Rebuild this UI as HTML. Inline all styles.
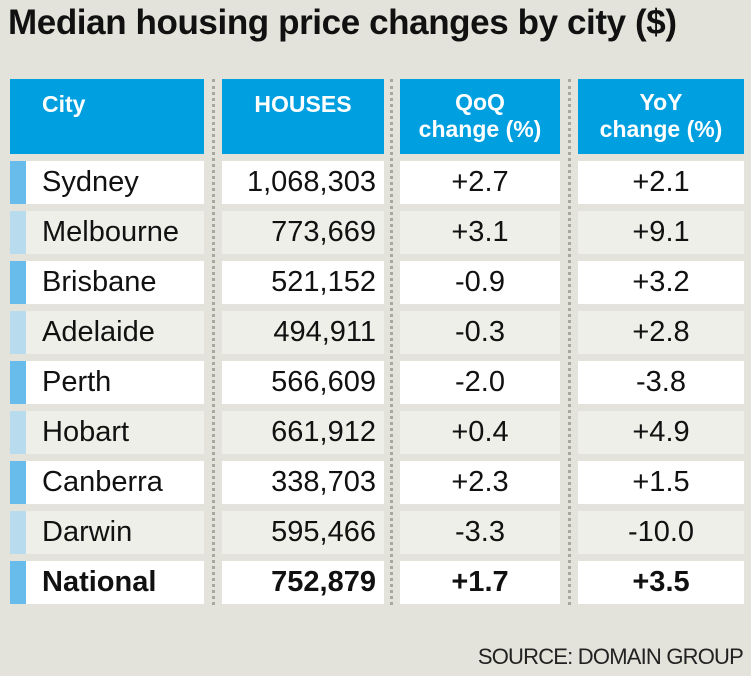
<!DOCTYPE html>
<html><head><meta charset="utf-8"><style>
body{margin:0;width:751px;height:676px;background:#e3e3db;font-family:"Liberation Sans",sans-serif;position:relative;overflow:hidden}
#title{position:absolute;left:8px;top:3px;font-size:35px;font-weight:bold;color:#111;letter-spacing:-0.4px;white-space:nowrap}
.cell{position:absolute;box-sizing:border-box;font-size:29px;color:#111;line-height:43px;height:43px;white-space:nowrap}
.hd{position:absolute;background:#009fe0;color:#fff;font-weight:bold;font-size:23px;top:79px;height:75px;box-sizing:border-box;line-height:27px}
.dots{position:absolute;top:79px;height:526px;width:0;border-left:3px dotted #a8a8a0}
.strip{position:absolute;left:10px;width:16px;height:43px}
#source{position:absolute;right:8px;top:644px;font-size:22px;color:#222;letter-spacing:-0.8px}
</style></head><body>
<div id="title">Median housing price changes by city ($)</div>
<div class="dots" style="left:212px"></div>
<div class="dots" style="left:390px"></div>
<div class="dots" style="left:568px"></div>
<div class="hd" style="left:10px;width:194px;padding:12px 0 0 32px">City</div>
<div class="hd" style="left:222px;width:162px;padding-top:12px;text-align:center">HOUSES</div>
<div class="hd" style="left:400px;width:160px;padding-top:10px;text-align:center">QoQ<br>change (%)</div>
<div class="hd" style="left:578px;width:166px;padding-top:10px;text-align:center">YoY<br>change (%)</div>
<div id="rows"></div>
<div id="source">SOURCE: DOMAIN GROUP</div>
<script>
const cities=["Sydney","Melbourne","Brisbane","Adelaide","Perth","Hobart","Canberra","Darwin","National"];
const houses=["1,068,303","773,669","521,152","494,911","566,609","661,912","338,703","595,466","752,879"];
const qoq=["+2.7","+3.1","-0.9","-0.3","-2.0","+0.4","+2.3","-3.3","+1.7"];
const yoy=["+2.1","+9.1","+3.2","+2.8","-3.8","+4.9","+1.5","-10.0","+3.5"];
const root=document.getElementById('rows');
function mk(cls,style,text){const d=document.createElement('div');d.className=cls;d.style.cssText=style;if(text!==undefined)d.textContent=text;root.appendChild(d);return d;}
cities.forEach((c,i)=>{
 const y=161+i*50, bg=i%2===0?'#ffffff':'#efefe9', bold=i===cities.length-1?'font-weight:bold;':'';
 const s=mk('strip',`top:${y}px;background:${i%2===0?'#67bcec':'#b8dbee'}`);
 
 
 const a=mk('cell',`left:26px;top:${y}px;width:178px;background:${bg};padding-left:16px;${bold}`,c);
 
 
 const b=mk('cell',`left:222px;top:${y}px;width:162px;background:${bg};text-align:right;padding-right:8px;${bold}`,houses[i]);
 
 
 const q=mk('cell',`left:400px;top:${y}px;width:160px;background:${bg};text-align:center;${bold}`,qoq[i]);
 
 
 const r=mk('cell',`left:578px;top:${y}px;width:166px;background:${bg};text-align:center;${bold}`,yoy[i]);
 
 
});
</script>
</body></html>
